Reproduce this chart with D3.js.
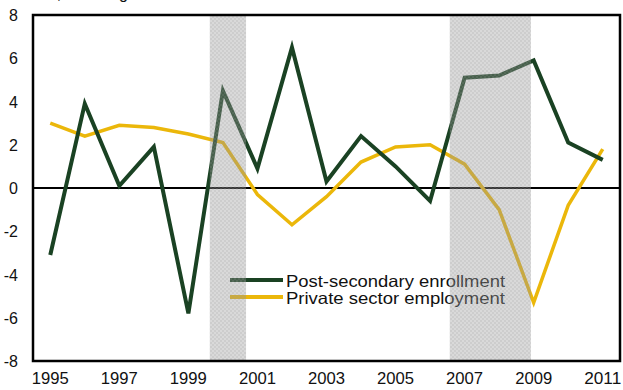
<!DOCTYPE html>
<html>
<head>
<meta charset="utf-8">
<script src="https://cdn.jsdelivr.net/npm/d3@7"></script>
<style>
  body { margin: 0; background: #fff; }
  text { font-family: "Liberation Sans", Arial, sans-serif; fill: #111; }
</style>
</head>
<body>
<svg id="chart" width="623" height="390"></svg>
<script>
// years on the x axis
const years = [1995, 1996, 1997, 1998, 1999, 2000, 2001, 2002, 2003, 2004, 2005, 2006, 2007, 2008, 2009, 2010, 2011]
// Post-secondary enrollment, % change
const enrollment = [-3.1, 3.9, 0.1, 1.9, -5.8, 4.5, 0.9, 6.5, 0.3, 2.4, 1.0, -0.6, 5.1, 5.2, 5.9, 2.1, 1.3]
// Private sector employment, % change
const employment = [3.0, 2.4, 2.9, 2.8, 2.5, 2.1, -0.3, -1.7, -0.4, 1.2, 1.9, 2.0, 1.1, -1.0, -5.3, -0.8, 1.8]
// recessions (start, end as fractional years)
const recessions = [[1999.62, 2000.67], [2006.57, 2008.92]]
const yTicks = [-8, -6, -4, -2, 0, 2, 4, 6, 8]
const xTicks = [1995, 1997, 1999, 2001, 2003, 2005, 2007, 2009, 2011]

const svg = d3.select('#chart')
const mLeft = 33, mRight = 620, mTop = 15, mBottom = 361

const x = d3.scaleLinear().domain([1994.5, 2011.5]).range([mLeft, mRight])
const y = d3.scaleLinear().domain([-8, 8]).range([mBottom, mTop])

// checker pattern for the shaded bands
const pat = svg.append('defs').append('pattern')
  .attr('id', 'checker')
  .attr('width', 4).attr('height', 4)
  .attr('patternUnits', 'userSpaceOnUse')
pat.append('rect').attr('width', 4).attr('height', 4).attr('fill', 'rgb(150,150,150)').attr('fill-opacity', 0.36)
pat.append('rect').attr('width', 2).attr('height', 2).attr('fill', 'rgb(150,150,150)').attr('fill-opacity', 0.18)
pat.append('rect').attr('x', 2).attr('y', 2).attr('width', 2).attr('height', 2).attr('fill', 'rgb(150,150,150)').attr('fill-opacity', 0.18)

// title, cut off by the top edge as in the source image
svg.append('text')
  .attr('x', 33).attr('y', -1)
  .style('font-size', '16px')
  .text('Y/Y, % change')

// zero line
svg.append('line')
  .attr('x1', mLeft).attr('x2', mRight)
  .attr('y1', y(0)).attr('y2', y(0))
  .attr('stroke', '#000').attr('stroke-width', 2)

const line = d3.line()
  .x((d, i) => x(years[i]))
  .y(d => y(d))

svg.append('path')
  .datum(employment)
  .attr('d', line)
  .attr('fill', 'none')
  .attr('stroke', '#ebb70a')
  .attr('stroke-width', 3.5)
  .attr('stroke-linejoin', 'miter')

svg.append('path')
  .datum(enrollment)
  .attr('d', line)
  .attr('fill', 'none')
  .attr('stroke', '#1a4223')
  .attr('stroke-width', 4)
  .attr('stroke-linejoin', 'miter')

// legend
const legend = [
  { label: 'Post-secondary enrollment', color: '#1a4223', y: 280 },
  { label: 'Private sector employment', color: '#ebb70a', y: 297 }
]
legend.forEach(l => {
  svg.append('line')
    .attr('x1', 230).attr('x2', 283)
    .attr('y1', l.y).attr('y2', l.y)
    .attr('stroke', l.color).attr('stroke-width', 4)
  svg.append('text')
    .attr('x', 286).attr('y', l.y + 6.5)
    .style('font-size', '16.5px')
    .attr('textLength', 219)
    .attr('lengthAdjust', 'spacingAndGlyphs')
    .text(l.label)
})

// recession shading drawn over the lines
svg.selectAll('rect.rec')
  .data(recessions)
  .enter()
  .append('rect')
  .attr('class', 'rec')
  .attr('x', d => x(d[0]))
  .attr('width', d => x(d[1]) - x(d[0]))
  .attr('y', mTop + 1)
  .attr('height', mBottom - mTop - 1)
  .attr('fill', 'url(#checker)')

// frame
svg.append('rect')
  .attr('x', mLeft).attr('y', mTop)
  .attr('width', mRight - mLeft).attr('height', mBottom - mTop)
  .attr('fill', 'none')
  .attr('stroke', '#000').attr('stroke-width', 2.5)

// y labels
svg.selectAll('text.ylab')
  .data(yTicks)
  .enter()
  .append('text')
  .attr('class', 'ylab')
  .attr('x', 18)
  .attr('y', d => y(d) + 6)
  .attr('text-anchor', 'end')
  .style('font-size', '16px')
  .text(d => d)

// x labels
svg.selectAll('text.xlab')
  .data(xTicks)
  .enter()
  .append('text')
  .attr('class', 'xlab')
  .attr('x', d => x(d))
  .attr('y', 384)
  .attr('text-anchor', 'middle')
  .style('font-size', '16px')
  .attr('textLength', 37)
  .attr('lengthAdjust', 'spacingAndGlyphs')
  .text(d => d)
</script>
</body>
</html>
